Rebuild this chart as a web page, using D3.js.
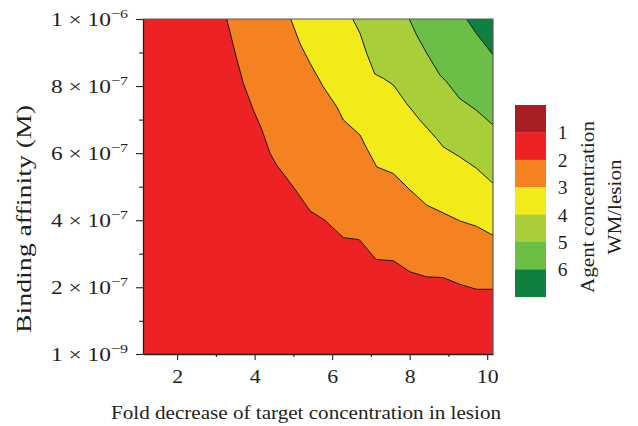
<!DOCTYPE html>
<html>
<head>
<meta charset="utf-8">
<script src="https://cdn.jsdelivr.net/npm/d3@7"></script>
<style>
  body { margin: 0; background: #fff; }
  svg { display: block; }
  text { font-family: "Liberation Serif", "Times New Roman", serif; fill: #231f20; }
</style>
</head>
<body>
<svg id="chart" width="638" height="426"></svg>
<script>
// Axis extents and ticks
const xDomain = [1.12, 10.15];
const yDomain = [1e-9, 1e-6];
const xTicks = [2, 4, 6, 8, 10];
const xMinorTicks = [3, 5, 7, 9];
const yTicks = [1e-9, 2e-7, 4e-7, 6e-7, 8e-7, 1e-6];
const yMinorTicks = [1e-7, 3e-7, 5e-7, 7e-7, 9e-7];

// Contour levels of agent concentration ratio (WM/lesion) and band colours
const levels = [1, 2, 3, 4, 5, 6];
const bandColors = ["#a91e23", "#ed2224", "#f58221", "#f3eb19", "#a8ce3a", "#6bbe46", "#0e8140"];

// Iso-lines: fold decrease (x) vs binding affinity in M (y)
const iso2X = [3.28, 3.50, 3.71, 3.97, 4.19, 4.40, 4.57, 5.00, 5.43, 5.81, 6.29, 6.70, 7.13, 7.58, 8.01, 8.44, 8.86, 9.29, 9.72, 10.15];
const iso2Y = [10.0e-7, 8.98e-7, 8.08e-7, 7.28e-7, 6.69e-7, 5.99e-7, 5.64e-7, 4.99e-7, 4.28e-7, 4.00e-7, 3.48e-7, 3.42e-7, 2.83e-7, 2.79e-7, 2.46e-7, 2.31e-7, 2.29e-7, 2.09e-7, 1.94e-7, 1.94e-7];

const iso3X = [4.93, 5.17, 5.43, 5.77, 6.12, 6.29, 6.72, 6.87, 7.15, 7.58, 8.01, 8.44, 8.86, 9.29, 9.72, 10.15];
const iso3Y = [10.0e-7, 9.27e-7, 8.68e-7, 7.98e-7, 7.38e-7, 6.99e-7, 6.54e-7, 6.19e-7, 5.59e-7, 5.39e-7, 4.90e-7, 4.45e-7, 4.22e-7, 3.98e-7, 3.82e-7, 3.55e-7];

const iso4X = [6.53, 6.72, 6.89, 7.10, 7.32, 7.58, 7.92, 8.26, 8.69, 8.86, 9.29, 9.72, 10.15];
const iso4Y = [10.0e-7, 9.57e-7, 8.98e-7, 8.36e-7, 8.23e-7, 8.03e-7, 7.48e-7, 6.99e-7, 6.44e-7, 6.19e-7, 5.89e-7, 5.55e-7, 5.10e-7];

const iso5X = [7.99, 8.18, 8.44, 8.78, 8.95, 9.29, 9.72, 10.15];
const iso5Y = [10.0e-7, 9.52e-7, 8.98e-7, 8.33e-7, 8.13e-7, 7.63e-7, 7.28e-7, 6.84e-7];

const iso6X = [9.47, 9.72, 10.15];
const iso6Y = [10.0e-7, 9.57e-7, 8.93e-7];

const isoLines = [
  { level: 2, xs: iso2X, ys: iso2Y },
  { level: 3, xs: iso3X, ys: iso3Y },
  { level: 4, xs: iso4X, ys: iso4Y },
  { level: 5, xs: iso5X, ys: iso5Y },
  { level: 6, xs: iso6X, ys: iso6Y }
];

const xTitle = "Fold decrease of target concentration in lesion";
const yTitle = "Binding affinity (M)";
const legendTitle = ["Agent concentration", "WM/lesion"];

// Layout
const svg = d3.select("#chart");
const plot = { left: 143, right: 493, top: 19, bottom: 354 };
const ink = "#231f20";

const x = d3.scaleLinear().domain(xDomain).range([plot.left, plot.right]);
const y = d3.scaleLinear().domain(yDomain).range([plot.bottom, plot.top]);

svg.append("defs").append("clipPath").attr("id", "plotClip")
  .append("rect")
  .attr("x", plot.left).attr("y", plot.top)
  .attr("width", plot.right - plot.left).attr("height", plot.bottom - plot.top);

const field = svg.append("g").attr("clip-path", "url(#plotClip)");

// Lowest band fills the whole field
field.append("rect")
  .attr("x", x(xDomain[0])).attr("y", y(yDomain[1]))
  .attr("width", x(xDomain[1]) - x(xDomain[0]))
  .attr("height", y(yDomain[0]) - y(yDomain[1]))
  .attr("fill", bandColors[1]);

const line = d3.line().x(d => x(d[0])).y(d => y(d[1]));

// Each higher band is the region above-right of its iso-line
isoLines.forEach(iso => {
  const pts = iso.xs.map((v, i) => [v, iso.ys[i]]);
  const poly = pts.concat([[xDomain[1], yDomain[1]]]);
  field.append("path")
    .attr("d", line(poly) + "Z")
    .attr("fill", bandColors[iso.level]);
});

isoLines.forEach(iso => {
  const pts = iso.xs.map((v, i) => [v, iso.ys[i]]);
  field.append("path")
    .attr("d", line(pts))
    .attr("fill", "none")
    .attr("stroke", "#1a1a1a")
    .attr("stroke-width", 1)
    .attr("stroke-linejoin", "round");
});

// Frame on top and right
svg.append("path")
  .attr("d", `M${plot.left},${plot.top}H${plot.right}V${plot.bottom}`)
  .attr("fill", "none").attr("stroke", "#5a5a5a").attr("stroke-width", 1.2);

// X axis
const xAxis = svg.append("g").attr("transform", `translate(0,${plot.bottom})`)
  .call(d3.axisBottom(x).tickValues(xTicks).tickSize(6).tickSizeOuter(0).tickFormat(d3.format("d")));
const xMinor = svg.append("g").attr("transform", `translate(0,${plot.bottom})`)
  .call(d3.axisBottom(x).tickValues(xMinorTicks).tickSize(3).tickSizeOuter(0).tickFormat(""));
xMinor.select(".domain").remove();

xAxis.select(".domain").attr("stroke", ink).attr("stroke-width", 1.3);
[xAxis, xMinor].forEach(g => g.selectAll(".tick line").attr("stroke", ink).attr("stroke-width", 1.1));
xAxis.selectAll(".tick text")
  .attr("font-size", 19.5).attr("fill", ink).attr("dy", null).attr("y", 29)
  .attr("transform", "scale(1.12,1)")
  .style("font-family", "Liberation Serif, serif");

// Y axis
const yAxis = svg.append("g").attr("transform", `translate(${plot.left},0)`)
  .call(d3.axisLeft(y).tickValues(yTicks).tickSize(7).tickSizeOuter(0).tickFormat(""));
const yMinor = svg.append("g").attr("transform", `translate(${plot.left},0)`)
  .call(d3.axisLeft(y).tickValues(yMinorTicks).tickSize(4).tickSizeOuter(0).tickFormat(""));
yMinor.select(".domain").remove();
yAxis.select(".domain").attr("stroke", ink).attr("stroke-width", 1.3);
[yAxis, yMinor].forEach(g => g.selectAll(".tick line").attr("stroke", ink).attr("stroke-width", 1.1));

// Scientific tick labels: "m × 10^e"
yTicks.forEach(v => {
  const [m, e] = v.toExponential().split("e");
  const t = svg.append("text")
    .attr("x", 128).attr("y", y(v) + 6.5)
    .attr("text-anchor", "end")
    .attr("font-size", 19)
    .attr("textLength", 77)
    .attr("lengthAdjust", "spacingAndGlyphs");
  t.append("tspan").text(`${(+m)} \u00d7 10`);
  t.append("tspan").attr("dy", -8).attr("font-size", 13).text(e.replace("-", "\u2212"));
});

// Axis titles
svg.append("text")
  .attr("x", 306).attr("y", 419)
  .attr("text-anchor", "middle").attr("font-size", 19.5)
  .attr("textLength", 390).attr("lengthAdjust", "spacingAndGlyphs")
  .text(xTitle);

svg.append("text")
  .attr("transform", `translate(31,219) rotate(-90)`)
  .attr("text-anchor", "middle").attr("font-size", 20)
  .attr("textLength", 228).attr("lengthAdjust", "spacingAndGlyphs")
  .text(yTitle);

// Legend
const legend = { x: 515, top: 105, w: 31, h: 27.4 };
const lg = svg.append("g");
lg.selectAll("rect").data(bandColors).join("rect")
  .attr("x", legend.x).attr("y", (d, i) => legend.top + i * legend.h)
  .attr("width", legend.w).attr("height", legend.h + 0.3)
  .attr("fill", d => d);

lg.selectAll("text.lvl").data(levels).join("text")
  .attr("class", "lvl")
  .attr("x", 562.5).attr("y", (d, i) => legend.top + (i + 1) * legend.h + 7)
  .attr("text-anchor", "middle").attr("font-size", 19.5)
  .text(d => d);

legendTitle.forEach((s, i) => {
  lg.append("text")
    .attr("transform", `translate(${594 + i * 27},${207}) rotate(-90)`)
    .attr("text-anchor", "middle").attr("font-size", 19.5)
    .attr("textLength", i === 0 ? 172 : 95).attr("lengthAdjust", "spacingAndGlyphs")
    .text(s);
});
</script>
</body>
</html>
